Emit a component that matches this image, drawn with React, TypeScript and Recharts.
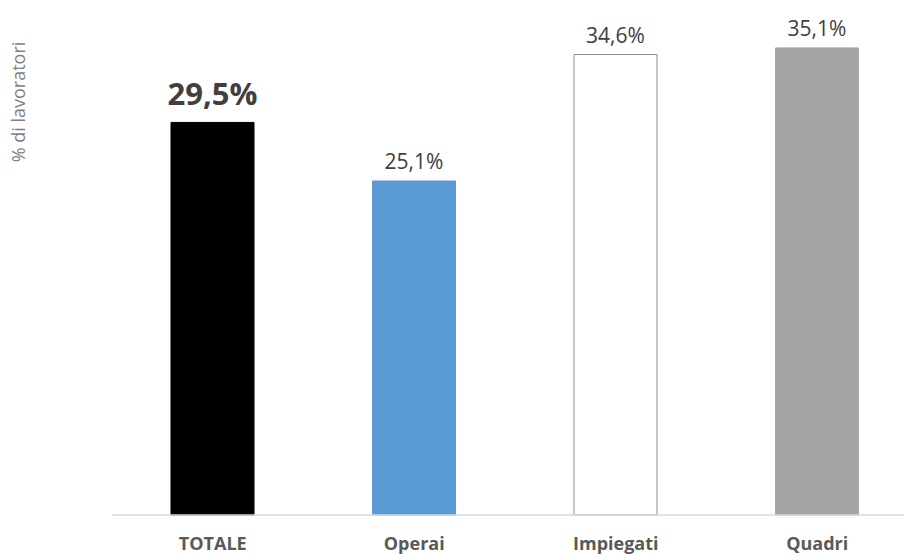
import React from 'react';
import { BarChart, Bar, XAxis, YAxis, Cell, LabelList } from 'recharts';

// categorie e valori (% di lavoratori)
const categories = ['TOTALE', 'Operai', 'Impiegati', 'Quadri'];
const values = [29.5, 25.1, 34.6, 35.1];
const fills = ['#000000', '#5b9bd5', '#ffffff', '#a5a5a5'];
const strokes = ['#000000', '#5b9bd5', '#8c8c8c', '#a5a5a5'];

const data = categories.map((name, i) => ({ name, value: values[i] }));

const FONT = "'Open Sans', 'Noto Sans', sans-serif";

const fmt = (v: number) => v.toFixed(1).replace('.', ',') + '%';

const ValueLabel = (props: any) => {
  const { x, y, width, value, index } = props;
  const isTotal = index === 0;
  return (
    <text
      x={x + width / 2}
      y={y - (isTotal ? 17 : 12)}
      textAnchor="middle"
      fill="#404040"
      fontFamily={FONT}
      fontSize={isTotal ? 31 : 21}
      fontWeight={isTotal ? 700 : 400}
    >
      {fmt(value)}
    </text>
  );
};

const App: React.FC = () => {
  return (
    <div style={{ position: 'absolute', top: 0, left: 0, width: 904, height: 554, overflow: 'hidden', background: '#fff' }}>
      <BarChart
        width={920}
        height={554}
        data={data}
        margin={{ top: 0, right: 2, bottom: 0, left: 112 }}
      >
        <XAxis
          dataKey="name"
          axisLine={{ stroke: '#d9d9d9', strokeWidth: 1.5 }}
          tickLine={false}
          height={39}
          tick={(p: any) => (
            <text
              x={p.x}
              y={550}
              textAnchor="middle"
              fill="#595959"
              fontSize={18}
              fontWeight={700}
              fontFamily={FONT}
            >
              {p.payload.value}
            </text>
          )}
        />
        <YAxis hide domain={[0, 38.7]} />
        <Bar dataKey="value" barSize={83} isAnimationActive={false}>
          {data.map((entry, index) => (
            <Cell key={`cell-${index}`} fill={fills[index]} stroke={strokes[index]} strokeWidth={1} />
          ))}
          <LabelList dataKey="value" content={ValueLabel} />
        </Bar>
        <text
          x={25}
          y={102}
          transform="rotate(-90 25 102)"
          textAnchor="middle"
          fill="#7f7f7f"
          fontSize={18}
          fontFamily={FONT}
        >
          % di lavoratori
        </text>
      </BarChart>
    </div>
  );
};

export default App;
